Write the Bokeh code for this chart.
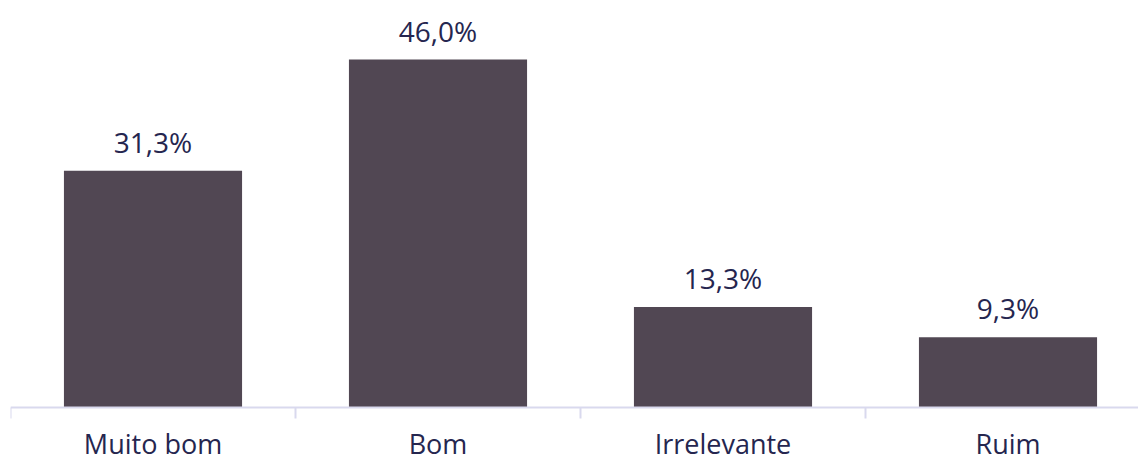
from bokeh.plotting import figure
from bokeh.models import Range1d, FixedTicker, ColumnDataSource
from bokeh.core.properties import value
from bokeh.embed import file_html
from bokeh.resources import INLINE

categories = ["Muito bom", "Bom", "Irrelevante", "Ruim"]
values = [31.3, 46.0, 13.3, 9.3]
labels = ["31,3%", "46,0%", "13,3%", "9,3%"]

xs = [i + 0.5 for i in range(len(categories))]
src = ColumnDataSource(dict(x=xs, top=values, lab=labels))

PX_PER_UNIT = 407 / 53.8
p = figure(width=1138, height=461, output_backend="svg", toolbar_location=None,
           x_range=Range1d(0, (1138 - 10) / 285),
           y_range=Range1d(-54 / PX_PER_UNIT, 53.8),
           min_border_left=10, min_border_right=0, min_border_top=0, min_border_bottom=0)
p.outline_line_color = None
p.grid.visible = False
p.yaxis.visible = False

p.vbar(x="x", top="top", width=0.625, bottom=0, source=src, fill_color="#514753", line_color=None)
p.text(x="x", y="top", text="lab", source=src, text_align="center", text_baseline="bottom",
       y_offset=-10, text_font=value("Open Sans"), text_font_size="28px", text_color="#25264f")

ax = p.xaxis[0]
ax.fixed_location = 0
ax.ticker = FixedTicker(ticks=xs, minor_ticks=list(range(len(categories) + 1)))
ax.major_label_overrides = {x: c for x, c in zip(xs, categories)}
ax.major_tick_line_color = None
ax.major_tick_out = 0
ax.major_tick_in = 0
ax.minor_tick_out = 11
ax.minor_tick_in = 0
ax.minor_tick_line_color = "#d9d9ee"
ax.minor_tick_line_width = 2
ax.axis_line_color = "#d9d9ee"
ax.axis_line_width = 2
ax.major_label_standoff = 6
ax.major_label_text_font = "Open Sans"
ax.major_label_text_font_size = "27px"
ax.major_label_text_color = "#25264f"

open("out.html", "w").write(file_html(p, INLINE))
